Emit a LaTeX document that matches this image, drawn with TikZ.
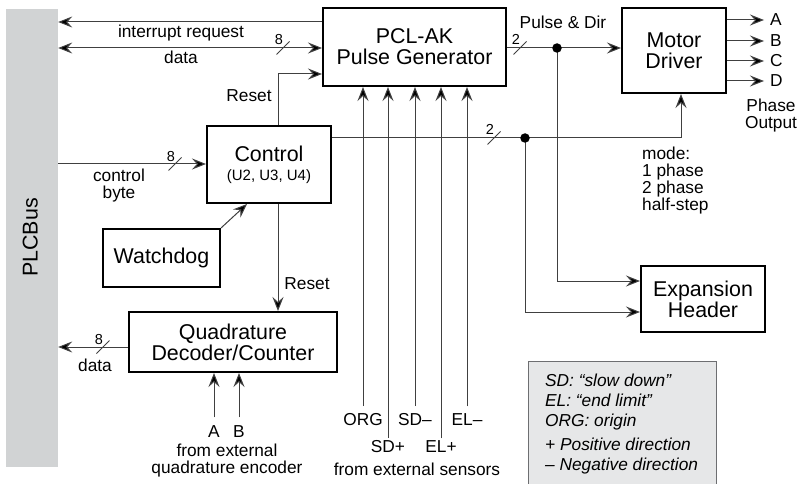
\documentclass[tikz,border=0pt]{standalone}
\usepackage{fontspec}
\setmainfont{Liberation Sans}
\usetikzlibrary{arrows.meta,calc}
\definecolor{busgray}{HTML}{D1D3D4}
\definecolor{legfill}{HTML}{E6E7E8}
\definecolor{legline}{HTML}{6D6E71}
\definecolor{wirecol}{HTML}{404040}
\newcommand\fbig{\fontsize{21.4pt}{21pt}\selectfont}
\newcommand\fmid{\fontsize{17.3pt}{17pt}\selectfont}
\newcommand\fsml{\fontsize{15pt}{15pt}\selectfont}
\newcommand\fdig{\fontsize{14.5pt}{14.5pt}\selectfont}
\begin{document}
\begin{tikzpicture}[x=1pt,y=-1pt,
  box/.style={draw=black, line width=2pt, align=center, font=\fbig, inner sep=0pt},
  wire/.style={draw=wirecol, line width=1pt},
  tip/.style={},
  arr/.style={wire, -{Stealth[length=14pt,width=11pt,inset=5pt,fill=black]}},
  darr/.style={wire, {Stealth[length=14pt,width=11pt,inset=5pt,fill=black]}-{Stealth[length=14pt,width=11pt,inset=5pt,fill=black]}},
  lbl/.style={font=\fmid, inner sep=0pt, anchor=base},
  mlbl/.style={font=\fmid, inner sep=0pt, align=center},
  dig/.style={font=\fdig, inner sep=0pt, anchor=base},
  junction/.style={circle, fill=black, inner sep=0pt, minimum size=9.5pt},
  pics/buswidth/.style={code={\draw[wire] (-6.5,6.5) -- (6.5,-6.5); \node[dig] at (-4,-3) {#1};}}
]
\useasboundingbox (0,0) rectangle (798,484);

% PLCBus bar
\node[fill=busgray, minimum width=52pt, minimum height=458pt, inner sep=0pt] (bus) at (32,238) {};
\node[font=\fbig, rotate=90, anchor=base, inner sep=0pt] (buslbl) at (37.7,237.5) {PLCBus};

% Legend box
\fill[legfill] (528,361) rectangle (716,485);
\draw[legline, line width=1pt] (528,485) -- (528,361) -- (716,361) -- (716,485);
\node[font=\fmid\itshape, align=left, anchor=west, inner sep=0pt] (legtxt) at (545,424)
  {SD: “slow down”\\[3pt]EL: “end limit”\\[3pt]ORG: origin\\[6.3pt]+ Positive direction\\[3pt]– Negative direction};

% Boxes
\node[box, minimum width=183pt, minimum height=78pt] (pcl) at (414.5,47) {PCL-AK\\Pulse Generator};
\node[box, minimum width=104pt, minimum height=85pt] (motor) at (674,50.5) {Motor\\Driver};
\node[box, minimum width=124pt, minimum height=77pt] (ctrl) at (269,164.5) {Control\\[-2pt]{\fsml (U2, U3, U4)}};
\node[box, minimum width=117pt, minimum height=58pt] (wd) at (161.5,258) {Watchdog};
\node[box, minimum width=208pt, minimum height=60pt] (quad) at (233,342) {Quadrature\\Decoder/Counter};
\node[box, minimum width=124pt, minimum height=66pt] (exp) at (703,299) {Expansion\\Header};

% interrupt request and data
\coordinate (irq) at (0,22);
\draw[arr] (pcl.west |- irq) -- (bus.east |- irq);
\node[lbl] (irqlbl) at (181,37.5) {interrupt request};
\coordinate (dat) at (0,48);
\draw[darr] (bus.east |- dat) -- (pcl.west |- dat);
\path (283,48) pic {buswidth=8};
\node[lbl] (datlbl) at (181,64) {data};

% Reset to PCL
\coordinate (rst) at (278,74);
\draw[arr] (rst |- ctrl.north) |- (pcl.west |- rst);
\node[lbl] (rstlbl) at (249,101.5) {Reset};

% control byte
\coordinate (cb) at (0,164);
\draw[arr] (bus.east |- cb) -- (ctrl.west |- cb);
\path (175,164) pic {buswidth=8};
\node[mlbl] (cblbl) at (119,185.5) {control\\byte};

% Pulse & Dir
\coordinate (pd) at (557,48);
\coordinate (e1) at (0,281);
\draw[arr] (pcl.east |- pd) -- (motor.west |- pd);
\path (520,48) pic {buswidth=2};
\node[lbl] (pdlbl) at (563,29) {Pulse \& Dir};
\draw[arr] (pd) |- (exp.west |- e1);
\node[junction] (j1) at (pd) {};

% mode
\coordinate (md) at (525,138);
\coordinate (mdx) at (681,138);
\coordinate (e2) at (0,312);
\draw[arr] (ctrl.east |- md) -- (mdx) -- (mdx |- motor.south);
\path (494,138) pic {buswidth=2};
\draw[arr] (md) |- (exp.west |- e2);
\node[junction] (j2) at (md) {};
\node[font=\fmid, align=left, anchor=west, inner sep=0pt] (modelbl) at (642,180.5) {mode:\\1 phase\\2 phase\\half-step};

% Motor outputs
\foreach \l/\yy in {A/20,B/41,C/61,D/81}{
  \node[font=\fmid, anchor=west, inner xsep=6pt, inner ysep=0pt] (out\l) at (764,\yy) {\l};
  \draw[arr] (motor.east |- out\l.west) -- (out\l.west);
}
\node[mlbl] (phlbl) at (771,115.7) {Phase\\Output};

% Watchdog
\coordinate (wdt) at (247,0);
\draw[arr] (wd.north east) -- (wdt |- ctrl.south);

% Reset to quadrature
\draw[arr] (rst |- ctrl.south) -- (rst |- quad.north);
\node[lbl] (rst2lbl) at (307,289.3) {Reset};

% quadrature data
\coordinate (qd) at (0,347);
\draw[arr] (quad.west |- qd) -- (bus.east |- qd);
\path (103,347) pic {buswidth=8};
\node[lbl] (qdlbl) at (95,371.7) {data};

% A / B encoder inputs
\node[lbl, inner ysep=7.5pt] (qa) at (214,437) {A};
\node[lbl, inner ysep=7.5pt] (qb) at (239,437) {B};
\draw[arr] (qa.north) -- (qa.north |- quad.south);
\draw[arr] (qb.north) -- (qb.north |- quad.south);
\node[mlbl] (qfrom) at (227,460.7) {from external\\quadrature encoder};

% Sensors
\node[lbl, inner ysep=6.6pt] (sorg) at (363,425) {ORG};
\node[lbl, inner ysep=2.3pt] (ssdp) at (388,452.7) {SD+};
\node[lbl, inner ysep=6.6pt] (ssdm) at (415,425) {SD–};
\node[lbl, inner ysep=2.3pt] (selp) at (441,452.7) {EL+};
\node[lbl, inner ysep=6.6pt] (selm) at (467,425) {EL–};
\foreach \s in {sorg,ssdp,ssdm,selp,selm}{
  \draw[arr] (\s.north) -- (\s.north |- pcl.south);
}
\node[lbl] (sfrom) at (417,475) {from external sensors};
\end{tikzpicture}
\end{document}
